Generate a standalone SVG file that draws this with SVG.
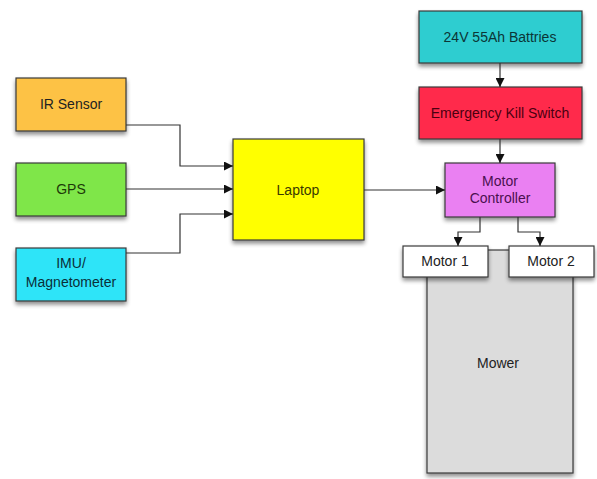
<svg xmlns="http://www.w3.org/2000/svg" width="597" height="479" viewBox="0 0 597 479">
<defs>
<filter id="sh" x="-10%" y="-10%" width="130%" height="140%">
<feGaussianBlur in="SourceAlpha" stdDeviation="2"/>
<feOffset dx="0" dy="2.5" result="b"/>
<feComponentTransfer><feFuncA type="linear" slope="0.45"/></feComponentTransfer>
<feMerge><feMergeNode/><feMergeNode in="SourceGraphic"/></feMerge>
</filter>
<marker id="ar" viewBox="0 0 10 10" refX="10" refY="5" markerWidth="9" markerHeight="9" markerUnits="userSpaceOnUse" orient="auto">
<path d="M0,0 L10,5 L0,10 z" fill="#111"/>
</marker>
</defs>
<style>
.b{stroke:#3a3a3a;stroke-width:1.2;filter:url(#sh)}
.t{font-family:"Liberation Sans",Arial,sans-serif;font-size:14px;text-anchor:middle;fill:#222}
.c{fill:none;stroke:#333;stroke-width:1.2;marker-end:url(#ar)}
.p{fill:none;stroke:#333;stroke-width:1.2}
</style>
<rect width="597" height="479" fill="#fff"/>
<g id="mower"><rect class="b" x="427" y="250" width="146" height="223" fill="#dcdcdc"/><text class="t" x="498" y="368">Mower</text></g>
<g id="ir"><rect class="b" x="16" y="78" width="110" height="53" fill="#fdc244"/><text class="t" x="71" y="109" fill="#3a2a00">IR Sensor</text></g>
<g id="gps"><rect class="b" x="16" y="163" width="110" height="53" fill="#7fe64a"/><text class="t" x="71" y="194" style="fill:#1d3a08">GPS</text></g>
<g id="imu"><rect class="b" x="16" y="248" width="110" height="53" fill="#2ee4f8"/><text class="t" x="71" y="268" style="fill:#0a2f38">IMU/</text><text class="t" x="71" y="287" style="fill:#0a2f38">Magnetometer</text></g>
<g id="laptop"><rect class="b" x="233" y="139" width="131" height="101" fill="#ffff00"/><text class="t" x="298" y="195" style="fill:#3a3a00">Laptop</text></g>
<g id="batt"><rect class="b" x="419" y="11" width="163" height="52" fill="#2ecdd0"/><text class="t" x="500" y="42" style="fill:#0b3536">24V 55Ah Battries</text></g>
<g id="kill"><rect class="b" x="419" y="87" width="163" height="52" fill="#ff2b4b"/><text class="t" x="500" y="118" style="fill:#4a0010">Emergency Kill Switch</text></g>
<g id="mc"><rect class="b" x="445" y="163" width="110" height="54" fill="#ea80f2"/><text class="t" x="500" y="186" style="fill:#4a1050">Motor</text><text class="t" x="500" y="203" style="fill:#4a1050">Controller</text></g>
<g id="m1"><rect class="b" x="403" y="246" width="85" height="31" fill="#ffffff"/><text class="t" x="445" y="266">Motor 1</text></g>
<g id="m2"><rect class="b" x="509" y="246" width="85" height="31" fill="#ffffff"/><text class="t" x="551" y="266">Motor 2</text></g>
<g id="connectors">
<polyline class="c" points="126,125 180,125 180,166 233,166"/>
<polyline class="c" points="126,189 233,189"/>
<polyline class="c" points="126,253 180,253 180,214 233,214"/>
<polyline class="c" points="364,190 445,190"/>
<polyline class="c" points="500,63 500,87"/>
<polyline class="c" points="500,139 500,163"/>
<polyline class="c" points="480,217 480,232 458,232 458,246"/>
<polyline class="c" points="518,217 518,232 540,232 540,246"/>
</g>
</svg>
